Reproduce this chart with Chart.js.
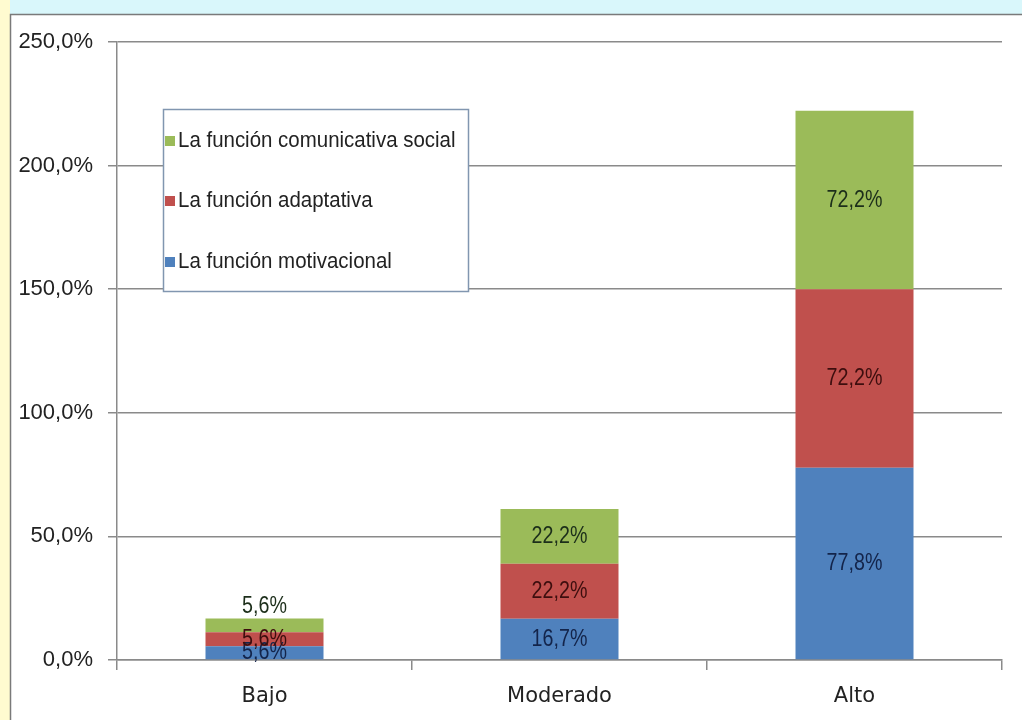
<!DOCTYPE html>
<html>
<head>
<meta charset="utf-8">
<script src="https://cdn.jsdelivr.net/npm/chart.js@4/dist/chart.umd.min.js"></script>
<style>
  html, body { margin: 0; padding: 0; background: #d9f7fb; }
  #wrap { width: 1022px; height: 720px; }
</style>
</head>
<body>
<div id="wrap"><canvas id="chart" width="1022" height="720"></canvas></div>
<script>
const categories = ["Bajo", "Moderado", "Alto"];
const seriesNames = ["La función motivacional", "La función adaptativa", "La función comunicativa social"];
const motivacional = [5.6, 16.7, 77.8];
const adaptativa = [5.6, 22.2, 72.2];
const comunicativa = [5.6, 22.2, 72.2];
const yTicks = [0, 50, 100, 150, 200, 250];

const palette = {
  blue: "#4F81BD",
  red: "#C0504D",
  green: "#9BBB59",
  grid: "#8a8a8a",
  text: "#222222",
};
const labelColors = ["#13244a", "#3d0e0e", "#1c2e1a"];

function pct(v) {
  return v.toFixed(1).replace(".", ",") + "%";
}

const backgroundPlugin = {
  id: "frame",
  beforeDraw(chart) {
    const ctx = chart.ctx;
    ctx.save();
    ctx.fillStyle = "#d9f7fb";
    ctx.fillRect(0, 0, chart.width, chart.height);
    ctx.fillStyle = "#fffbd0";
    ctx.fillRect(0, 0, 10, chart.height);
    ctx.fillStyle = "#ffffff";
    ctx.fillRect(10, 14, chart.width, chart.height);
    ctx.strokeStyle = "#7a7a7a";
    ctx.lineWidth = 1.5;
    ctx.beginPath();
    ctx.moveTo(10.5, chart.height);
    ctx.lineTo(10.5, 14.5);
    ctx.lineTo(chart.width, 14.5);
    ctx.stroke();
    // slightly wider letter spacing for the category labels
    ctx.letterSpacing = "1px";
    ctx.restore();
  },
};

const valueLabels = {
  id: "valueLabels",
  afterDatasetsDraw(chart) {
    const ctx = chart.ctx;
    const last = chart.data.datasets.length - 1;
    ctx.save();
    ctx.font = "24px 'Liberation Sans'";
    ctx.textAlign = "center";
    ctx.textBaseline = "middle";
    chart.data.datasets.forEach((ds, i) => {
      const meta = chart.getDatasetMeta(i);
      meta.data.forEach((bar, j) => {
        const h = bar.base - bar.y;
        let y = (bar.y + bar.base) / 2;
        if (i === last && h < 20) y = bar.y - 12;
        ctx.save();
        ctx.translate(bar.x, y);
        ctx.scale(0.82, 1);
        ctx.fillStyle = labelColors[i];
        ctx.fillText(pct(ds.data[j]), 0, 0);
        ctx.restore();
      });
    });
    ctx.restore();
  },
};

const boxLegend = {
  id: "boxLegend",
  afterDraw(chart) {
    const ctx = chart.ctx;
    const box = { x: 163, y: 109, w: 305, h: 182 };
    ctx.save();
    ctx.fillStyle = "#ffffff";
    ctx.fillRect(box.x, box.y, box.w, box.h);
    ctx.strokeStyle = "#8196b0";
    ctx.lineWidth = 1.5;
    ctx.strokeRect(box.x + 0.5, box.y + 0.5, box.w, box.h);
    const rows = [141, 201, 262];
    const order = [2, 1, 0];
    ctx.font = "22px 'Liberation Sans'";
    ctx.textBaseline = "middle";
    order.forEach((di, k) => {
      const ds = chart.data.datasets[di];
      ctx.fillStyle = ds.backgroundColor;
      ctx.fillRect(165, rows[k] - 5, 10, 10);
      ctx.save();
      ctx.translate(178, rows[k]);
      ctx.scale(0.93, 1);
      ctx.fillStyle = palette.text;
      ctx.fillText(ds.label, 0, 0);
      ctx.restore();
    });
    ctx.restore();
  },
};

new Chart(document.getElementById("chart"), {
  type: "bar",
  data: {
    labels: categories,
    datasets: [
      { label: seriesNames[0], data: motivacional, backgroundColor: palette.blue },
      { label: seriesNames[1], data: adaptativa, backgroundColor: palette.red },
      { label: seriesNames[2], data: comunicativa, backgroundColor: palette.green },
    ],
  },
  options: {
    responsive: false,
    animation: false,
    layout: { padding: { top: 42, right: 20, left: 0, bottom: 0 } },
    datasets: { bar: { categoryPercentage: 1, barPercentage: 0.4 } },
    plugins: {
      legend: { display: false },
      tooltip: { enabled: false },
    },
    scales: {
      x: {
        stacked: true,
        afterFit(scale) { scale.height = 60; },
        grid: {
          offset: true,
          drawOnChartArea: false,
          drawTicks: true,
          tickLength: 10,
          color: palette.grid,
          lineWidth: 1.5,
        },
        border: { color: palette.grid, width: 1.5 },
        ticks: {
          color: palette.text,
          padding: 14,
          font: { family: "'DejaVu Sans'", size: 21 },
        },
      },
      y: {
        stacked: true,
        min: 0,
        max: 250,
        afterFit(scale) { scale.width = 117; },
        afterBuildTicks(scale) { scale.ticks = yTicks.map((v) => ({ value: v })); },
        grid: {
          color: palette.grid,
          lineWidth: 1.5,
          tickLength: 9,
        },
        border: { color: palette.grid, width: 1.5 },
        ticks: {
          color: palette.text,
          padding: 15,
          font: { family: "'Liberation Sans'", size: 22 },
          callback: (v) => pct(v),
        },
      },
    },
  },
  plugins: [backgroundPlugin, valueLabels, boxLegend],
});
</script>
</body>
</html>
